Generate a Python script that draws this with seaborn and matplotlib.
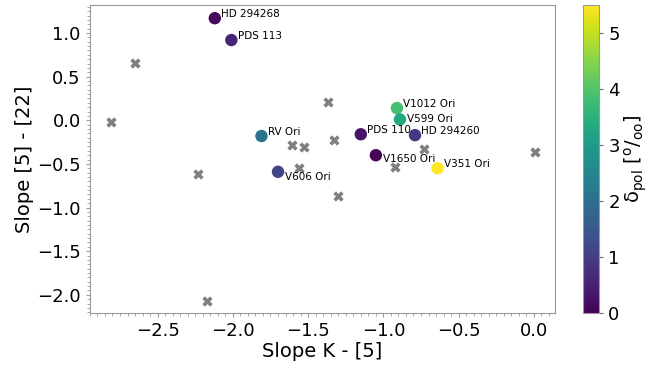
import numpy as np
import matplotlib
import matplotlib.pyplot as plt
from matplotlib.ticker import AutoMinorLocator
import pandas as pd
import seaborn as sns

# stars with polarisation measurements
names = ['HD 294268', 'PDS 113', 'RV Ori', 'V606 Ori', 'PDS 110',
         'V1650 Ori', 'V1012 Ori', 'V599 Ori', 'HD 294260', 'V351 Ori']
slope_k5 = [-2.12, -2.01, -1.81, -1.70, -1.15, -1.05, -0.91, -0.89, -0.79, -0.64]
slope_522 = [1.17, 0.92, -0.18, -0.59, -0.16, -0.40, 0.14, 0.01, -0.17, -0.55]
dpol = [0.15, 0.55, 2.1, 1.1, 0.3, 0.05, 3.85, 3.3, 0.9, 5.5]

# rest of the sample (no polarisation)
other_k5 = [-2.65, -2.81, -2.23, -2.17, -1.37, -1.61, -1.53, -1.33, -1.56, -1.30, -0.92, -0.73, 0.01]
other_522 = [0.66, -0.02, -0.62, -2.07, 0.21, -0.28, -0.31, -0.23, -0.55, -0.87, -0.53, -0.33, -0.36]

# label offsets (points)
offs = {'V606 Ori': (5, -3.5), 'V1650 Ori': (5, -3), 'V599 Ori': (5, 0.5)}

sns.set_style("white")
plt.rcParams['font.family'] = ['DejaVu Sans']
plt.rcParams['mathtext.default'] = 'regular'
plt.rcParams['axes.edgecolor'] = '0.6'
plt.rcParams['text.color'] = 'black'
plt.rcParams['axes.labelcolor'] = 'black'
plt.rcParams['xtick.color'] = 'black'
plt.rcParams['ytick.color'] = 'black'

df = pd.DataFrame({'x': slope_k5, 'y': slope_522, 'd': dpol, 'name': names})
df_o = pd.DataFrame({'x': other_k5, 'y': other_522})

fig = plt.figure(figsize=(6.56, 3.65), dpi=100)
ax = fig.add_axes([0.137, 0.142, 0.709, 0.844])
cax = fig.add_axes([0.889, 0.142, 0.0244, 0.844])

vmin, vmax = 0, 5.5
sns.scatterplot(data=df_o, x='x', y='y', marker='X', color='gray', s=55,
                linewidth=0, ax=ax)
sns.scatterplot(data=df, x='x', y='y', hue='d', palette='viridis',
                hue_norm=(vmin, vmax), s=80, linewidth=0, legend=False, ax=ax)

for i, r in df.iterrows():
    dx, dy = offs.get(r['name'], (4.5, 3.2))
    ax.annotate(r['name'], (r['x'], r['y']), xytext=(dx, dy),
                textcoords='offset points', fontsize=7.5, ha='left', va='center')

ax.set_xlim(-2.95, 0.14)
ax.set_ylim(-2.21, 1.32)
ax.set_xlabel('Slope K - [5]', fontsize=14, labelpad=1)
ax.set_ylabel('Slope [5] - [22]', fontsize=14, labelpad=2)
ax.tick_params(labelsize=13, length=3, color='0.6')
ax.tick_params(which='minor', length=2, color='0.6')
ax.tick_params(axis='both', which='both', bottom=True, left=True)
ax.xaxis.set_minor_locator(AutoMinorLocator(10))
ax.yaxis.set_minor_locator(AutoMinorLocator(10))

sm = matplotlib.cm.ScalarMappable(cmap='viridis', norm=plt.Normalize(vmin, vmax))
cb = fig.colorbar(sm, cax=cax)
cb.outline.set_edgecolor('0.6')
cb.ax.tick_params(labelsize=13, length=3, color='0.4')
cb.set_label(r'$\delta_{pol}$ [$^o/_{oo}$]', fontsize=14, labelpad=2)

fig.savefig('out.png', dpi=100)
